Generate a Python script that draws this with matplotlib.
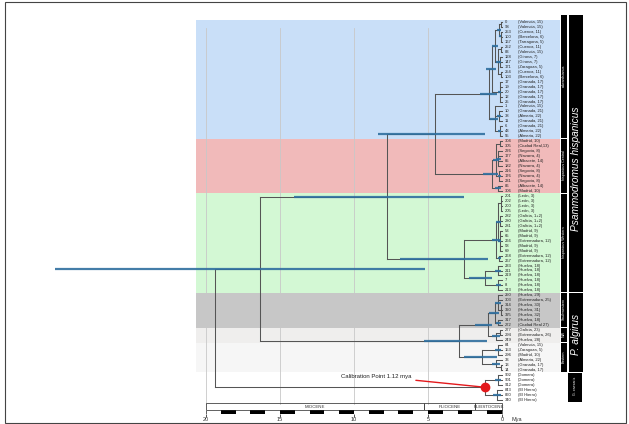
import matplotlib.pyplot as plt
from matplotlib.patches import Rectangle

plt.rcParams['font.family'] = ['Liberation Sans', 'DejaVu Sans']

# tips, top to bottom: sample number and (locality, map code)
tip_ids = ['0', '93', '253', '100', '167', '252', '83', '128', '147', '171', '254', '103',
           '17', '19', '20', '12', '25', '1', '10', '38', '11', '6', '43', '55',
           '304', '305', '226', '177', '85', '182', '216', '176', '231', '86', '306',
           '201', '202', '200', '205', '282', '280', '281', '53', '65', '266', '58', '69', '268', '267',
           '233', '211', '219', '7', '8', '213',
           '250', '303', '314', '320', '325', '317', '272',
           '277', '294', '249',
           '84', '153', '296', '33', '13', '14',
           '902', '901', '912', '843', '860', '340']
tip_places = ['Valencia, 15', 'Valencia, 15', 'Cuenca, 11', 'Barcelona, 6', 'Tarragona, 5', 'Cuenca, 11',
              'Valencia, 15', 'Girona, 7', 'Girona, 7', 'Zaragoza, 5', 'Cuenca, 11', 'Barcelona, 6',
              'Granada, 17', 'Granada, 17', 'Granada, 17', 'Granada, 17', 'Granada, 17', 'Valencia, 15',
              'Granada, 21', 'Almeria, 22', 'Granada, 21', 'Granada, 21', 'Almeria, 22', 'Almeria, 22',
              'Madrid, 10', 'Ciudad Real,13', 'Segovia, 8', 'Navarra, 4', 'Albacete, 14', 'Navarra, 4',
              'Segovia, 8', 'Navarra, 4', 'Segovia, 8', 'Albacete, 14', 'Madrid, 10',
              'León, 3', 'León, 3', 'León, 3', 'León, 3', 'Galicia, 1+2', 'Galicia, 1+2', 'Galicia, 1+2',
              'Madrid, 9', 'Madrid, 9', 'Extremadura, 12', 'Madrid, 9', 'Madrid, 9',
              'Extremadura, 12', 'Extremadura, 12',
              'Huelva, 18', 'Huelva, 18', 'Huelva, 18', 'Huelva, 18', 'Huelva, 18', 'Huelva, 18',
              'Huelva, 29', 'Extremadura, 25', 'Huelva, 30', 'Huelva, 31', 'Huelva, 32', 'Huelva, 18',
              'Ciudad Real 27',
              'Galicia, 23', 'Extremadura, 26', 'Huelva, 28',
              'Valencia, 15', 'Zaragoza, 5', 'Madrid, 10', 'Almeria, 22', 'Granada, 17', 'Granada, 17',
              'Gomera', 'Gomera', 'Gomera', 'El Hierro', 'El Hierro', 'El Hierro']

# clades: first tip, last tip, shading
clade_names = ['edwardsianus', 'hispanicus Central', 'hispanicus Western',
               'Southwestern', 'NW', 'Eastern', 'G. caesaris']
clade_first = [0, 24, 35, 55, 62, 65, 71]
clade_last = [23, 34, 54, 61, 64, 70, 76]
clade_colors = ['#c9dff8', '#f1baba', '#d3f8d4', '#c7c7c7', '#efeeed', '#f6f6f6', None]

species_names = ['Psammodromus hispanicus', 'P. algirus']
species_first = [0, 55]
species_last = [54, 70]

# nodes: (age in Myr, 95% HPD or None, children); ints are tips
east = (0.9, (0.35, 1.5), [
    (0.7, (0.4, 1.1), [
        (0.45, (0.25, 0.7), [
            (0.2, (0.1, 0.35), [(0.05, None, [0, 1]), (0.1, (0.05, 0.2), [2, (0.05, None, [3, 4])])]),
            (0.25, (0.12, 0.4), [(0.08, None, [5, 6]), (0.12, (0.05, 0.2), [7, 8, 9]),
                                 (0.06, None, [10, 11])]),
        ]),
        (0.15, (0.05, 0.3), [12, 13, 14, 15, 16]),
    ]),
    (0.5, (0.25, 0.8), [17, (0.2, (0.1, 0.35), [18, 19, 20]), (0.15, (0.05, 0.3), [21, 22, 23])]),
])
central = (0.7, (0.25, 1.3), [
    (0.4, (0.2, 0.6), [(0.15, None, [24, 25]), (0.25, (0.1, 0.4), [26, 27, 28, 29]),
                       (0.2, (0.08, 0.3), [30, 31, 32])]),
    (0.3, (0.1, 0.5), [33, 34]),
])
west = (0.4, (0.15, 0.7), [
    (0.25, (0.1, 0.4), [(0.1, None, [35, 36, 37, 38]), (0.12, None, [39, 40, 41]),
                        (0.15, (0.05, 0.25), [42, 43, 44, 45, 46])]),
    (0.2, (0.05, 0.3), [47, 48]),
])
huelva = (1.15, (0.7, 2.2), [(0.3, (0.1, 0.5), [49, 50, 51]), (0.25, (0.1, 0.4), [52, 53, 54])])
southwest = (0.5, (0.2, 0.9), [(0.3, (0.1, 0.5), [55, 56, (0.1, None, [57, 58, 59])]),
                               (0.25, (0.05, 0.4), [60, 61])])
northwest = (0.4, (0.15, 0.7), [(0.15, None, [62, 63]), 64])
alg_east = (1.35, (0.35, 2.6), [(0.3, (0.1, 0.5), [65, 66, 67]),
                                (0.4, (0.15, 0.7), [68, (0.1, None, [69, 70])])])
cal_age = 1.12
outgroup = (cal_age, None, [(0.3, (0.1, 0.5), [71, 72, 73]), (0.35, (0.1, 0.6), [74, 75, 76])])

hisp_ec = (4.5, (1.15, 8.4), [east, central])
hisp_wh = (2.6, (0.95, 6.9), [west, huelva])
hispanicus = (7.8, (2.6, 14.05), [hisp_ec, hisp_wh])
algirus = (2.9, (1.0, 5.3), [(0.95, (0.7, 1.8), [southwest, northwest]), alg_east])
ingroup = (16.35, (5.2, 30.2), [hispanicus, algirus])
root = (19.4, None, [ingroup, outgroup])

epochs = ['MIOCENE', 'PLIOCENE', 'PLEISTOCENE']
epoch_start = [20, 5.3, 1.8]
epoch_end = [5.3, 1.8, 0]

W, H = 629, 424
px_per_myr = 14.8
x_zero = 502      # pixel column of the present
row = 4.97        # pixels per tip
top = 22

fig = plt.figure(figsize=(W / 100, H / 100), dpi=100)
ax = fig.add_axes([0, 0, 1, 1])
ax.set_xlim(x_zero / px_per_myr, (x_zero - W) / px_per_myr)
ax.set_ylim((H - top) / row, -top / row)
ax.axis('off')

yx = ax.get_yaxis_transform()

# clade shading
for first, last, c in zip(clade_first, clade_last, clade_colors):
    if c:
        ax.axhspan(first - 0.5, last + 0.5, xmin=196 / W, xmax=560 / W, color=c, lw=0, zorder=0)

for t in [20, 15, 10, 5]:
    ax.axvline(t, ymin=1 - 404 / H, ymax=1 - 28 / H, color='#c8c8c8', lw=0.6, zorder=1)

pos = {}
bars = []


def draw(node):
    if isinstance(node, int):
        return 0.0, node
    age, hpd, kids = node
    pts = [draw(k) for k in kids]
    ys = [p[1] for p in pts]
    for ka, ky in pts:
        ax.plot([age, ka], [ky, ky], color='#555555', lw=0.75, zorder=2)
    ax.plot([age, age], [min(ys), max(ys)], color='#555555', lw=0.75, zorder=2)
    y = (ys[0] + ys[-1]) / 2
    pos[id(node)] = (age, y)
    if hpd:
        bars.append((y, hpd))
    return age, y


draw(root)
for y, (lo, hi) in bars:
    ax.plot([hi, lo], [y, y], color='#2f6f9f', lw=1.6, alpha=0.9, solid_capstyle='butt', zorder=3)

# tip labels
for i, (sid, place) in enumerate(zip(tip_ids, tip_places)):
    ax.text(505 / W, i, sid, transform=yx, fontsize=3, va='center', ha='left', color='#222')
    ax.text(518 / W, i, f'({place})', transform=yx, fontsize=3, va='center', ha='left', color='#222')

# calibration
cx, cy = pos[id(outgroup)]
ax.plot(cx, cy, 'o', color='#e3191c', ms=6, zorder=6)
ax.annotate(f'Calibration Point {cal_age} mya', xy=(cx, cy), xytext=(6.1, cy - 2.2),
            fontsize=4.3, ha='right', va='center', color='#222',
            arrowprops=dict(arrowstyle='-', color='#e3191c', lw=1, shrinkA=1, shrinkB=0))

# clade and species bars
for k, (name, first, last) in enumerate(zip(clade_names, clade_first, clade_last)):
    y0 = first - 0.42 if first else -1.4
    x0, x1 = (568, 582) if k == len(clade_names) - 1 else (561, 567)
    ax.add_patch(Rectangle((x0 / W, y0), (x1 - x0) / W, last + 0.42 - y0,
                           transform=yx, color='black', lw=0, zorder=4))
    ax.text((x0 + x1) / 2 / W, (y0 + last) / 2, name, transform=yx, rotation=90, color='white',
            fontsize=2.6, ha='center', va='center', zorder=5)

for name, first, last in zip(species_names, species_first, species_last):
    y0 = first - 0.42 if first else -1.4
    ax.add_patch(Rectangle((569 / W, y0), 14 / W, last + 0.42 - y0,
                           transform=yx, color='black', lw=0, zorder=4))
    # label sits a little below the middle of the long bar
    mid = (y0 + last) / 2 + (3.2 if first == 0 else 0.6)
    ax.text(576 / W, mid, name, transform=yx, rotation=90, color='white',
            fontsize=7.3, style='italic', ha='center', va='center', zorder=5)

# geological time scale
sc = fig.add_axes([0, 1 - 414 / H, 1, 11 / H])
sc.set_xlim(ax.get_xlim())
sc.set_ylim(0, 1)
sc.patch.set_alpha(0)
for s in sc.spines.values():
    s.set_visible(False)
sc.set_yticks([])
sc.set_xticks([20, 15, 10, 5, 0])
sc.tick_params(axis='x', length=2, width=0.6, labelsize=4, pad=0.5, color='#333', labelcolor='#333')

for name, a, b in zip(epochs, epoch_start, epoch_end):
    sc.add_patch(Rectangle((b, 0.36), a - b, 0.64, fill=False, ec='#444', lw=0.6))
    sc.text((a + b) / 2, 0.68, name, fontsize=3.2, ha='center', va='center', color='#333')

for k in range(20):
    sc.add_patch(Rectangle((k, 0), 1, 0.36, fc='black' if k % 2 == 0 else 'white', ec='none'))
sc.add_patch(Rectangle((0, 0), 20, 0.36, fill=False, ec='#222', lw=0.5))
sc.text((x_zero - 512) / px_per_myr, -0.5, 'Mya', fontsize=4, ha='left', va='center', color='#333',
        clip_on=False)

fig.patches.append(Rectangle((5 / W, 1 / H), 621 / W, 421 / H, transform=fig.transFigure,
                             fill=False, ec='#444', lw=0.8))

fig.savefig('out.png', dpi=100)
